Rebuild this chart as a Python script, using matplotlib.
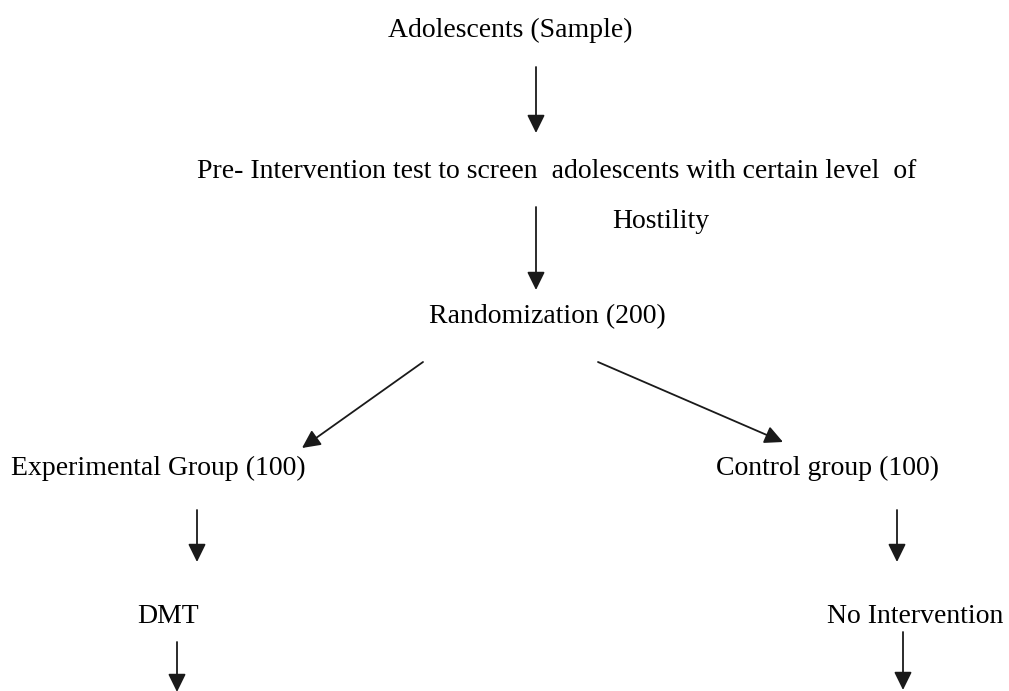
import matplotlib
matplotlib.use("Agg")
import matplotlib.pyplot as plt
from matplotlib.patches import FancyArrowPatch

# Flowchart content
labels = [
    "Adolescents (Sample)",
    "Pre- Intervention test to screen  adolescents with certain level  of",
    "Hostility",
    "Randomization (200)",
    "Experimental Group (100)",
    "Control group (100)",
    "DMT",
    "No Intervention",
]
label_x = [510, 557, 661, 547, 158, 828, 168, 915]
label_y = [37, 178, 228, 323, 475, 475, 623, 623]

arrow_start_x = [536, 536, 423, 598, 197, 897, 177, 903]
arrow_start_y = [67, 207, 362, 362, 510, 510, 642, 632]
arrow_end_x = [536, 536, 302, 783, 197, 897, 177, 903]
arrow_end_y = [133, 290, 448, 442, 562, 562, 692, 690]

W, H = 1009, 691
fig = plt.figure(figsize=(W / 100, H / 100), dpi=100)
ax = fig.add_axes([0, 0, 1, 1])
ax.set_xlim(0, W)
ax.set_ylim(H, 0)
ax.axis("off")

for t, x, y in zip(labels, label_x, label_y):
    ax.text(x, y, t, ha="center", va="baseline", fontsize=20,
            family="Liberation Serif", color="black")

for x0, y0, x1, y1 in zip(arrow_start_x, arrow_start_y, arrow_end_x, arrow_end_y):
    arr = FancyArrowPatch((x0, y0), (x1, y1),
                          arrowstyle="-|>,head_length=0.55,head_width=0.27",
                          mutation_scale=20, lw=1.3, color="#1a1a1a",
                          shrinkA=0, shrinkB=0)
    ax.add_patch(arr)

fig.savefig("out.png", dpi=100)
